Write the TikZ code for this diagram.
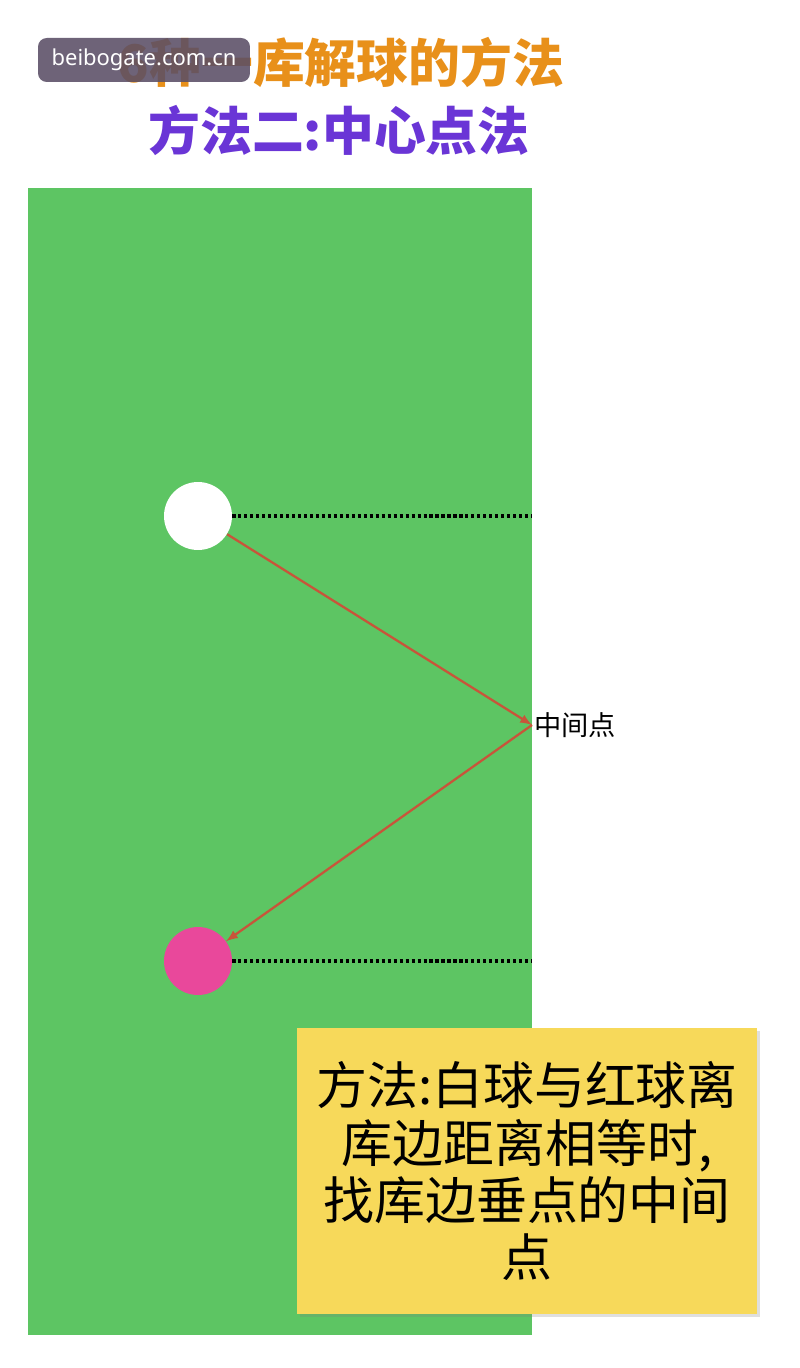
\documentclass[tikz,border=0pt]{standalone}
\usepackage{fontspec}
\setmainfont{Noto Sans CJK SC}
\newfontfamily\markfont{Noto Sans}
\usetikzlibrary{arrows,shadows}
\definecolor{tablegreen}{HTML}{5DC563}
\definecolor{ballpink}{HTML}{E9489B}
\definecolor{cuered}{HTML}{C8553A}
\definecolor{notebox}{HTML}{F7D95A}
\definecolor{titleorange}{HTML}{E8901A}
\definecolor{titlepurple}{HTML}{6A35D6}
\definecolor{markgray}{HTML}{5A4E66}
\tikzset{
    ball/.style = {circle, minimum size=1.36cm, inner sep=0pt},
    guide/.style = {line width=2pt, dash pattern=on 1.8pt off 1.6pt},
    path line/.style = {cuered, line width=1.3pt, -latex}
}
\begin{document}
\begin{tikzpicture}[x=0.02cm,y=-0.02cm]
    \useasboundingbox (0,0) rectangle (800,1368);
    \fill [white] (0,0) rectangle (800,1368);
    \fill [tablegreen] (28,188) rectangle (532,1335);
    % titles
    \node (title) [titleorange, font=\fontsize{29.5}{35}\selectfont\bfseries] at (341,62) {6种一库解球的方法};
    \node (subtitle) [titlepurple, font=\fontsize{29.5}{35}\selectfont\bfseries] at (339,130) {方法二:中心点法};
    \node (mark) [fill=markgray, fill opacity=0.88, text opacity=1, rounded corners=5pt, text=white,
        minimum width=4.24cm, minimum height=0.88cm, font=\markfont\fontsize{12.5}{15}\selectfont] at (144,60) {beibogate.com.cn};
    % balls
    \node (white ball) [ball, fill=white] at (198,516) {};
    \node (pink ball) [ball, fill=ballpink] at (198,961) {};
    \coordinate (rail top) at (532,516);
    \coordinate (rail bottom) at (532,961);
    \coordinate (mid) at (532,725);
    \draw [guide] (white ball.east) -- (rail top);
    \draw [guide] (pink ball.east) -- (rail bottom);
    \draw [path line] (white ball) -- (mid);
    \draw [path line] (mid) -- (pink ball);
    \node (mid label) [anchor=west, inner sep=1pt, font=\fontsize{15.5}{18}\selectfont] at (mid) {中间点};
    % note
    \node (note) [fill=notebox, drop shadow={opacity=0.25, shadow xshift=0.6mm, shadow yshift=-0.6mm},
        minimum width=9.2cm, minimum height=5.74cm, align=center,
        font=\fontsize{29}{32.5}\selectfont] at (527,1171)
        {方法:白球与红球离\\库边距离相等时,\\找库边垂点的中间\\点};
\end{tikzpicture}
\end{document}
